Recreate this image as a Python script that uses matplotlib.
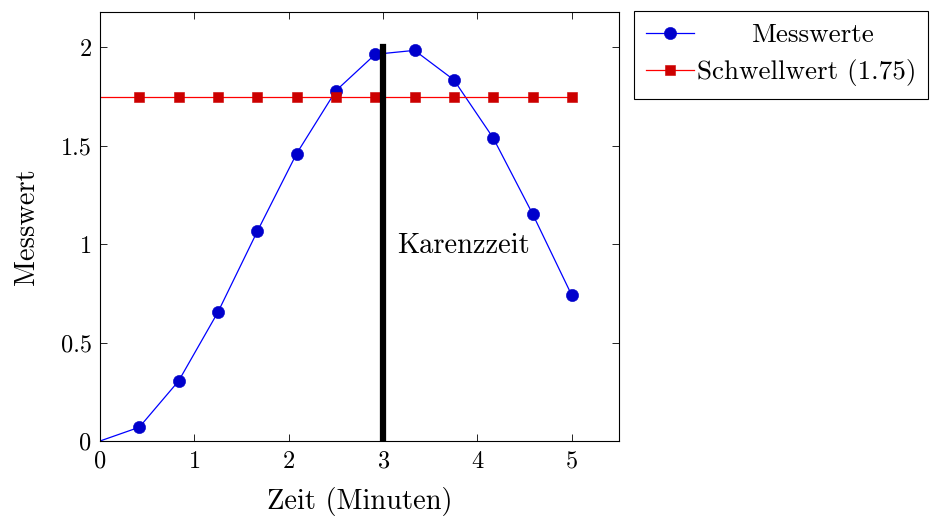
import matplotlib
matplotlib.use("Agg")
import matplotlib.pyplot as plt
import numpy as np

plt.rcParams['font.family'] = 'serif'
plt.rcParams['font.serif'] = ['cmr10']
plt.rcParams['mathtext.fontset'] = 'cm'
plt.rcParams['axes.formatter.use_mathtext'] = True

# data
zeit = [0, 5/12, 10/12, 15/12, 20/12, 25/12, 30/12, 35/12, 40/12, 45/12, 50/12, 55/12, 5]
messwerte = [0, 0.07, 0.305, 0.655, 1.065, 1.46, 1.78, 1.965, 1.985, 1.835, 1.54, 1.155, 0.74]
schwelle = 1.75
karenz_x = 3
karenz_top = 2
labels = ['Messwerte', 'Schwellwert (1.75)']

fig = plt.figure(figsize=(9.32, 5.19), dpi=100)
ax = fig.add_axes([100/932, 1 - 441/519, 519/932, 429/519])

l1, = ax.plot(zeit, messwerte, color='blue', lw=0.9, marker='o', ms=8.8, mew=0.4,
              mfc=(0, 0, 0.8), mec=(0, 0, 0.8), markevery=list(range(1, len(zeit))))
l2, = ax.plot(zeit, [schwelle] * len(zeit), color='red', lw=0.9, marker='s', ms=7.6, mew=0.4,
              mfc=(0.8, 0, 0), mec=(0.8, 0, 0), markevery=list(range(1, len(zeit))))
ax.plot([karenz_x, karenz_x], [0, karenz_top], color='black', lw=4.5)
ax.text(3.15, 0.99, 'Karenzzeit', fontsize=20.5, va='center', ha='left')

ax.set_xlim(0, 5.5)
ax.set_ylim(0, 2.18)
ax.set_xticks([0, 1, 2, 3, 4, 5])
ax.set_yticks([0, 0.5, 1, 1.5, 2])
ax.set_yticklabels(['0', '0.5', '1', '1.5', '2'])
ax.tick_params(direction='in', top=True, right=True, labelsize=17.5, length=5, width=0.6)
ax.tick_params(axis='x', pad=7)
ax.tick_params(axis='y', pad=6)
for s in ax.spines.values():
    s.set_linewidth(0.8)
ax.set_xlabel('Zeit (Minuten)', fontsize=20.5, labelpad=10)
ax.set_ylabel('Messwert', fontsize=20.5, labelpad=15)

# legend: first label centred like pgfplots
leg = fig.legend([l1, l2], [' ', labels[1]], loc='upper left',
                 bbox_to_anchor=(634/932, 1 - 11/519),
                 fontsize=19.5, frameon=True, fancybox=False, edgecolor='black',
                 framealpha=1, borderaxespad=0, handlelength=1.75, handletextpad=0.12,
                 borderpad=0.45, labelspacing=0.45)
leg.get_frame().set_linewidth(0.8)
fig.canvas.draw()
r = fig.canvas.get_renderer()
t0 = leg.get_texts()[0].get_window_extent(r)
t1 = leg.get_texts()[1].get_window_extent(r)
frame = leg.get_frame().get_window_extent(r)
cx = (t1.x0 + frame.x1) / 2
fig.text(cx / fig.bbox.width, t0.y0 / fig.bbox.height,
         labels[0], fontsize=19.5, ha='center', va='bottom', zorder=10)

fig.savefig('out.png', dpi=100)
